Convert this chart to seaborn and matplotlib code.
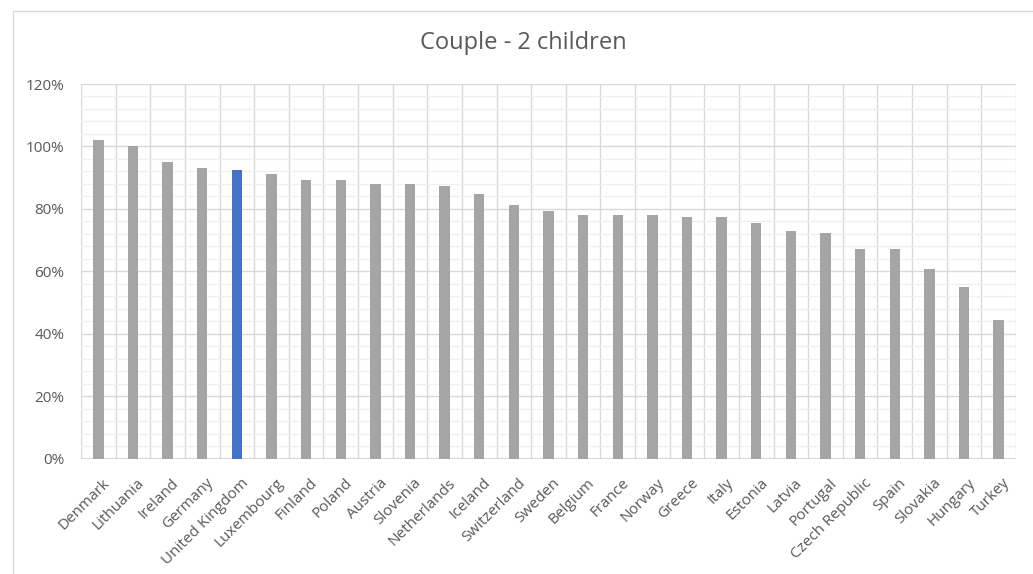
import numpy as np
import pandas as pd
import matplotlib
matplotlib.use("Agg")
import matplotlib.pyplot as plt
import matplotlib.transforms as mtransforms
from matplotlib.lines import Line2D
from matplotlib.ticker import FuncFormatter, MultipleLocator
import seaborn as sns

countries = [
    "Denmark", "Lithuania", "Ireland", "Germany", "United Kingdom", "Luxembourg",
    "Finland", "Poland", "Austria", "Slovenia", "Netherlands", "Iceland",
    "Switzerland", "Sweden", "Belgium", "France", "Norway", "Greece", "Italy",
    "Estonia", "Latvia", "Portugal", "Czech Republic", "Spain", "Slovakia",
    "Hungary", "Turkey",
]
values = [
    102.0, 100.0, 95.0, 93.0, 92.4, 91.2, 89.3, 89.2, 88.1, 88.1, 87.3, 84.9,
    81.2, 79.2, 77.9, 77.9, 77.9, 77.3, 77.3, 75.4, 72.8, 72.2, 67.1, 67.1,
    60.8, 55.1, 44.4,
]
highlight = "United Kingdom"
title = "Couple - 2 children"

GREY = "#A5A5A5"
BLUE = "#4472C4"
TEXT = "#595959"

df = pd.DataFrame({"country": countries, "value": values})
palette = {c: (BLUE if c == highlight else GREY) for c in countries}

sns.set_theme(style="white")
plt.rcParams["font.family"] = ["Open Sans", "DejaVu Sans"]

W, H = 1033, 574
fig = plt.figure(figsize=(W / 100, H / 100), dpi=100)
ax = fig.add_axes([81 / W, 1 - 458.7 / H, (1016 - 81) / W, (458.7 - 84) / H])

# chart area frame (top and left edges)
frame_kw = dict(transform=fig.transFigure, color="#D9D9D9", linewidth=1.0, zorder=0)
fig.add_artist(Line2D([13 / W, 1.0], [1 - 11 / H, 1 - 11 / H], **frame_kw))
fig.add_artist(Line2D([13 / W, 13 / W], [0.0, 1 - 11 / H], **frame_kw))

sns.barplot(data=df, x="country", y="value", hue="country", palette=palette,
            legend=False, dodge=False, width=0.3, saturation=1,
            linewidth=0, edgecolor="none", ax=ax, zorder=3)

n = len(countries)
ax.set_xlim(-0.5, n - 0.5)
ax.set_ylim(0, 120)
ax.yaxis.set_major_locator(MultipleLocator(20))
ax.yaxis.set_minor_locator(MultipleLocator(4))
ax.yaxis.set_major_formatter(FuncFormatter(lambda v, _: f"{v:.0f}%"))
ax.set_xticks(np.arange(-0.5, n), minor=True)

ax.set_axisbelow(True)
ax.yaxis.grid(True, which="minor", color="#F0F0F0", linewidth=1.0)
ax.yaxis.grid(True, which="major", color="#D9D9D9", linewidth=1.0)
ax.xaxis.grid(True, which="minor", color="#D9D9D9", linewidth=1.0)
ax.xaxis.grid(False, which="major")

for s in ax.spines.values():
    s.set_visible(False)
ax.axhline(0, color="#D0D0D0", linewidth=1.2, zorder=2)

ax.set_xlabel("")
ax.set_ylabel("")
ax.tick_params(axis="both", which="both", length=0)
ax.tick_params(axis="y", labelsize=11, labelcolor=TEXT, pad=12)
ax.tick_params(axis="x", labelsize=11, labelcolor=TEXT, pad=12)
shift = mtransforms.ScaledTranslation(4 / 100, 0, fig.dpi_scale_trans)
for lab in ax.get_xticklabels():
    lab.set_rotation(45)
    lab.set_ha("right")
    lab.set_rotation_mode("anchor")
    lab.set_transform(lab.get_transform() + shift)

fig.text(523 / W, 1 - 43 / H, title, ha="center", va="center",
         fontsize=17, color=TEXT)

fig.savefig("out.png", dpi=100, facecolor="white")
